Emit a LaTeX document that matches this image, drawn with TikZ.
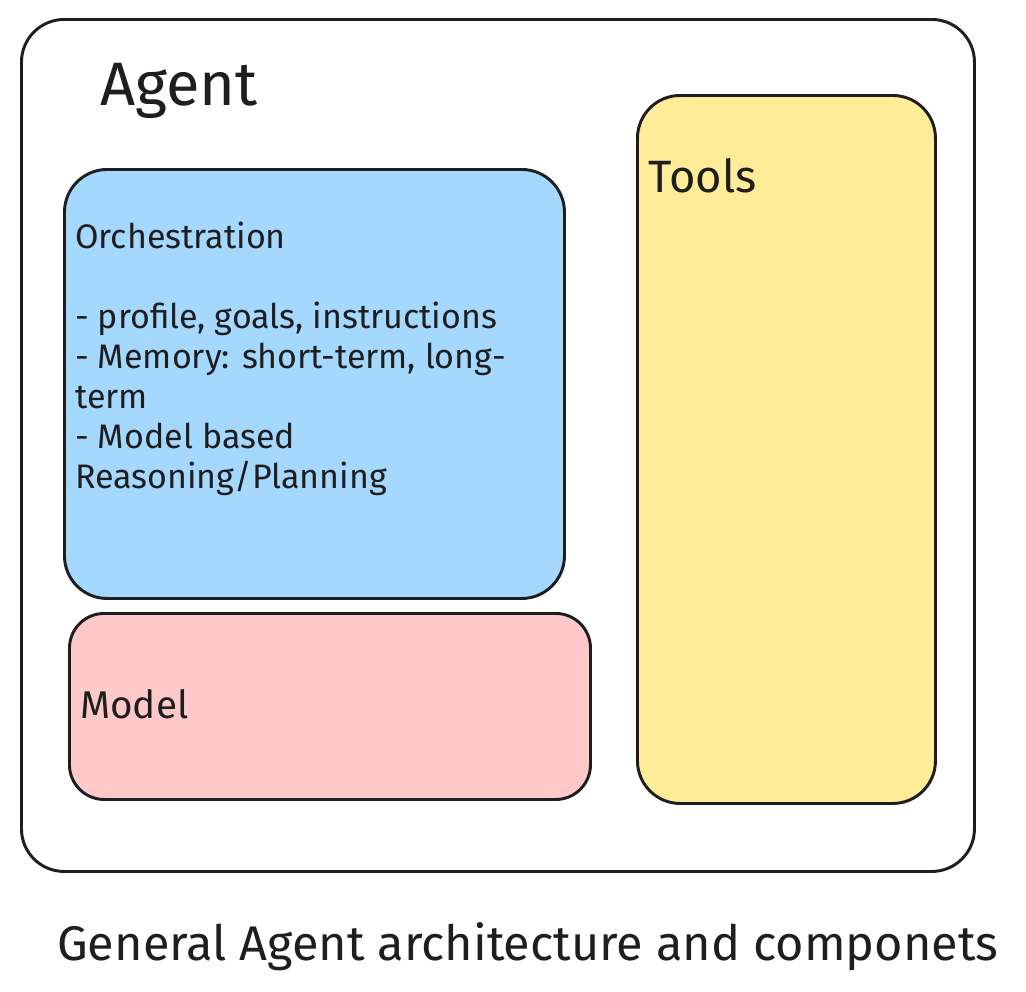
\documentclass[tikz,border=0pt]{standalone}
\usepackage{fontspec}
\setmainfont{Fira Sans}
\definecolor{ink}{HTML}{1E1E1E}
\definecolor{bluefill}{HTML}{A5D8FF}
\definecolor{redfill}{HTML}{FFC9C9}
\definecolor{yellowfill}{HTML}{FFEC99}
\begin{document}
\begin{tikzpicture}[x=0.75pt,y=-0.75pt,
  box/.style={draw=ink, line width=2.2pt, anchor=north west, inner sep=0pt},
  lbl/.style={anchor=base west, inner sep=0pt, text=ink, align=left}]
\useasboundingbox (0,0) rectangle (1026,992);
\node[box, fill=white, minimum width=0.75pt*953, minimum height=0.75pt*852, rounded corners=32pt] (agent) at (20,18) {};
\node[box, fill=bluefill, minimum width=0.75pt*500, minimum height=0.75pt*429, rounded corners=32pt] (orch) at (63,168) {};
\node[box, fill=redfill, minimum width=0.75pt*521, minimum height=0.75pt*186, rounded corners=26pt] (model) at (68,612) {};
\node[box, fill=yellowfill, minimum width=0.75pt*298, minimum height=0.75pt*708, rounded corners=32pt] (tools) at (636,94) {};
\node[lbl, font=\fontsize{46}{50}\selectfont] (agentlbl) at (100,105) {Agent};
\node[lbl, font=\fontsize{34}{36}\selectfont] (toolslbl) at (648,192) {Tools};
\node[lbl, font=\fontsize{25.5}{30}\selectfont] (orchlbl) at (75,488) {Orchestration\\[30pt]- profile, goals, instructions\\- Memory: short-term, long-\\term\\- Model based\\Reasoning/Planning};
\node[lbl, font=\fontsize{29}{32}\selectfont] (modellbl) at (80,718) {Model};
\node[lbl, font=\fontsize{36.5}{40}\selectfont] (caption) at (57,960) {General Agent architecture and componets};
\end{tikzpicture}
\end{document}
